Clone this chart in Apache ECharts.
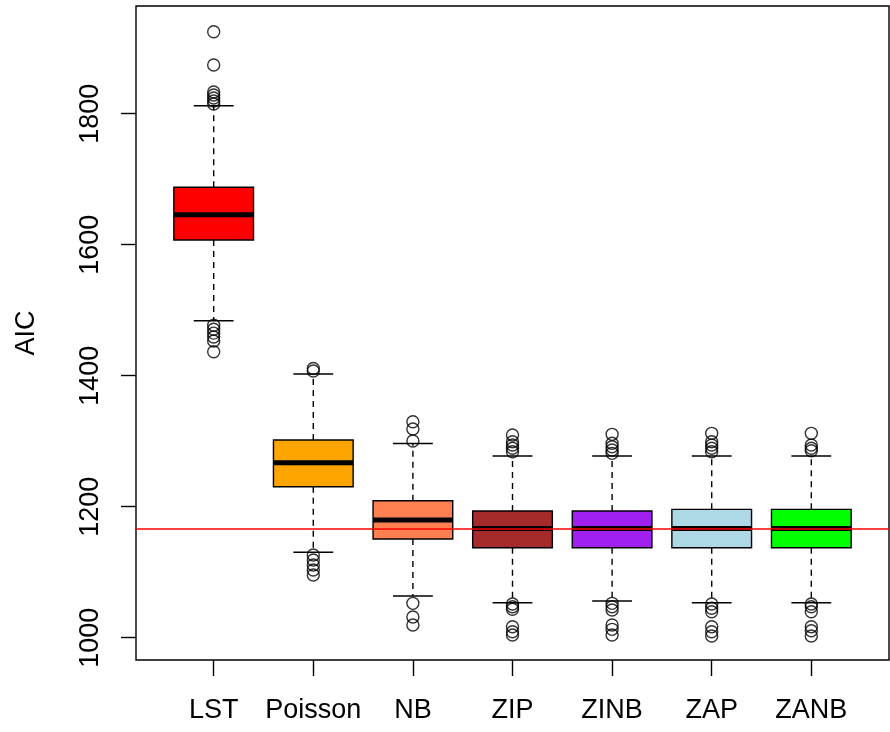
<!DOCTYPE html>
<html>
<head>
<meta charset="utf-8">
<title>AIC by model</title>
<script src="https://cdn.jsdelivr.net/npm/echarts@6/dist/echarts.min.js"></script>
<style>
  html, body { margin: 0; padding: 0; background: #fff; }
  #chart { width: 890px; height: 732px; }
</style>
</head>
<body>
<div id="chart"></div>
<script>
// Model names along the x axis
const categories = ['LST', 'Poisson', 'NB', 'ZIP', 'ZINB', 'ZAP', 'ZANB'];

// Five-number summaries (whisker ends, quartiles, median)
const whiskerLow  = [1484, 1130.4, 1063.7, 1053.4, 1056, 1053.4, 1053.4];
const quartile1   = [1607.2, 1230.5, 1150.7, 1137.4, 1137.4, 1137.4, 1137.4];
const medians     = [1645.8, 1267.2, 1179.7, 1166.7, 1166.7, 1166.7, 1166.7];
const quartile3   = [1687.6, 1301.8, 1209, 1193.4, 1193.4, 1196, 1196];
const whiskerHigh = [1812.2, 1402.6, 1296.5, 1277.4, 1277.4, 1277.4, 1277.4];

// Points beyond the whiskers, one list per model
const outliers = [
  [1925.2, 1874.4, 1833, 1828.5, 1823.9, 1819.4, 1814.8, 1477, 1471, 1465, 1459, 1453, 1436.6],
  [1411, 1407.2, 1126.3, 1118.6, 1111, 1103.4, 1095.7],
  [1329.8, 1318.6, 1300.3, 1052.5, 1031.6, 1019.4],
  [1309.5, 1299.2, 1294.2, 1289.2, 1284, 1051.5, 1047.3, 1043.4, 1016.8, 1009.2, 1004.1],
  [1310.5, 1296.8, 1291.6, 1286.6, 1281.5, 1052.5, 1047.3, 1042.3, 1019.4, 1012.8, 1004.1],
  [1312, 1299.2, 1294.2, 1289.2, 1284, 1051.5, 1044.9, 1039.7, 1016.8, 1009.2, 1002.6],
  [1312, 1294.2, 1289.2, 1285.5, 1051.5, 1047.3, 1039.7, 1016.8, 1010.7, 1002.6]
];

// Box fill colours
const boxColors = ['#FF0000', '#FFA500', '#FF7F50', '#A52A2A', '#A020F0', '#ADD8E6', '#00FF00'];

// Horizontal reference level
const referenceAIC = 1166.5;

// Y axis tick labels
const yTicks = [1000, 1200, 1400, 1600, 1800];

const FONT = "'Liberation Sans', Arial, Helvetica, sans-serif";
const LW = 1.4;

const boxData = categories.map((c, i) => [i + 1, whiskerLow[i], quartile1[i], medians[i], quartile3[i], whiskerHigh[i], i]);
const outlierData = [];
outliers.forEach((list, i) => list.forEach(v => outlierData.push([i + 1, v])));
const xTicks = categories.map((c, i) => i + 1);

function renderBox(params, api) {
  const x = api.value(0);
  const idx = api.value(6);
  const lo = api.coord([x, api.value(1)]);
  const q1 = api.coord([x, api.value(2)]);
  const md = api.coord([x, api.value(3)]);
  const q3 = api.coord([x, api.value(4)]);
  const hi = api.coord([x, api.value(5)]);
  // box half-width is 0.4 units, staple half-width 0.2 units
  const left = api.coord([x - 0.4, 0])[0];
  const right = api.coord([x + 0.4, 0])[0];
  const sl = api.coord([x - 0.2, 0])[0];
  const sr = api.coord([x + 0.2, 0])[0];
  const cx = lo[0];
  const dashed = { stroke: '#000', lineWidth: LW, lineDash: [6, 5] };
  const solid = { stroke: '#000', lineWidth: LW };
  return {
    type: 'group',
    children: [
      { type: 'line', shape: { x1: cx, y1: q3[1], x2: cx, y2: hi[1] }, style: dashed },
      { type: 'line', shape: { x1: cx, y1: q1[1], x2: cx, y2: lo[1] }, style: dashed },
      { type: 'line', shape: { x1: sl, y1: hi[1], x2: sr, y2: hi[1] }, style: solid },
      { type: 'line', shape: { x1: sl, y1: lo[1], x2: sr, y2: lo[1] }, style: solid },
      { type: 'rect', shape: { x: left, y: q3[1], width: right - left, height: q1[1] - q3[1] },
        style: { fill: boxColors[idx], stroke: '#000', lineWidth: LW } },
      { type: 'line', shape: { x1: left, y1: md[1], x2: right, y2: md[1] },
        style: { stroke: '#000', lineWidth: 5 } }
    ]
  };
}

const chart = echarts.init(document.getElementById('chart'), null, { renderer: 'canvas' });
chart.setOption({
  animation: false,
  backgroundColor: '#fff',
  grid: {
    left: 136, top: 6, width: 753, bottom: 72,
    show: true, borderColor: '#000', borderWidth: LW, backgroundColor: 'transparent'
  },
  xAxis: {
    type: 'value', min: 0.22, max: 7.78,
    splitLine: { show: false },
    axisLine: { show: false },
    axisTick: { show: true, customValues: xTicks, length: 16, lineStyle: { color: '#000', width: LW } },
    axisLabel: {
      customValues: xTicks, margin: 37, fontSize: 27, color: '#000', fontFamily: FONT,
      formatter: v => categories[Math.round(v) - 1] || ''
    }
  },
  yAxis: {
    type: 'value', min: 966, max: 1964.4,
    name: 'AIC', nameLocation: 'middle', nameGap: 96,
    nameTextStyle: { fontSize: 27, color: '#000', fontFamily: FONT },
    splitLine: { show: false },
    axisLine: { show: false },
    axisTick: { show: true, customValues: yTicks, length: 15, lineStyle: { color: '#000', width: LW } },
    axisLabel: {
      customValues: yTicks, rotate: 90, margin: 32, fontSize: 27, color: '#000', fontFamily: FONT,
      formatter: v => String(v)
    }
  },
  series: [
    {
      type: 'custom',
      renderItem: renderBox,
      data: boxData,
      encode: { x: 0, y: [1, 2, 3, 4, 5] },
      z: 2
    },
    {
      type: 'scatter',
      data: outlierData,
      symbol: 'circle',
      symbolSize: 12,
      itemStyle: { color: 'rgba(0,0,0,0)', borderColor: '#000', borderWidth: LW },
      z: 3,
      markLine: {
        silent: true,
        symbol: ['none', 'none'],
        label: { show: false },
        lineStyle: { color: '#FF0000', width: 1.5, type: 'solid' },
        data: [{ yAxis: referenceAIC }],
        z: 4
      }
    }
  ]
});
</script>
</body>
</html>
